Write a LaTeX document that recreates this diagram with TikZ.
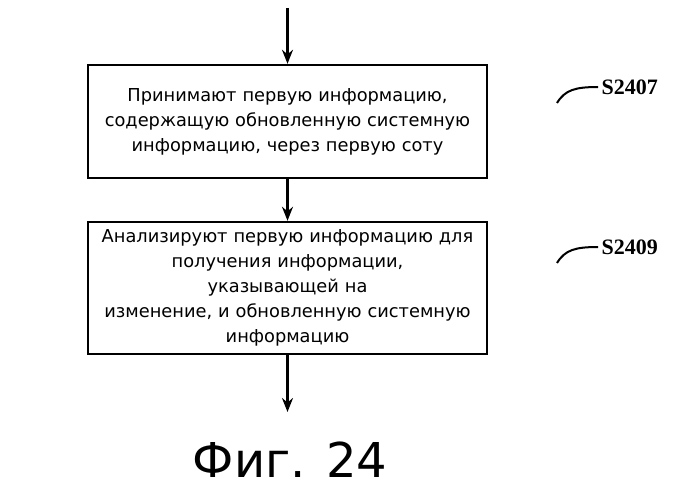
\documentclass[tikz,border=0pt]{standalone}
\usepackage{fontspec}
\setmainfont{DejaVu Sans}
\newfontfamily\lab{Liberation Serif}
\usetikzlibrary{arrows.meta}
\begin{document}
\begin{tikzpicture}[x=1pt,y=-1pt,
  box/.style={draw,line width=2.4pt,text width=395pt,align=center,font=\fontsize{17.8}{25}\selectfont,inner xsep=2pt,inner ysep=0pt},
  arr/.style={line width=2.4pt,-{Stealth[length=14pt,width=11pt]}},
  lbl/.style={font=\lab\bfseries\fontsize{22}{24}\selectfont,anchor=west}]
\useasboundingbox (0,0) rectangle (688,500);
\node[box,minimum height=113pt] (b1) at (287.5,121.5) {Принимают первую информацию,\\содержащую обновленную системную\\информацию, через первую соту};
\node[box,minimum height=132pt] (b2) at (287.5,288) {Анализируют первую информацию для\\получения информации, указывающей на\\изменение, и обновленную системную\\информацию};
\coordinate (t) at (287.5,8);
\coordinate (e) at (287.5,412);
\draw[arr] (t) -- (b1.north);
\draw[arr] (b1.south) -- (b2.north);
\draw[arr] (b2.south) -- (e);
\node[lbl] (l1) at (598,87) {S2407};
\node[lbl] (l2) at (598,247) {S2409};
\draw[line width=2pt] (557,103) .. controls (565,90) and (575,87) .. (l1.west);
\draw[line width=2pt] (557,263) .. controls (565,250) and (575,247) .. (l2.west);
\node[font=\fontsize{48}{50}\selectfont] (f) at (290,460) {Фиг. 24};
\end{tikzpicture}
\end{document}
